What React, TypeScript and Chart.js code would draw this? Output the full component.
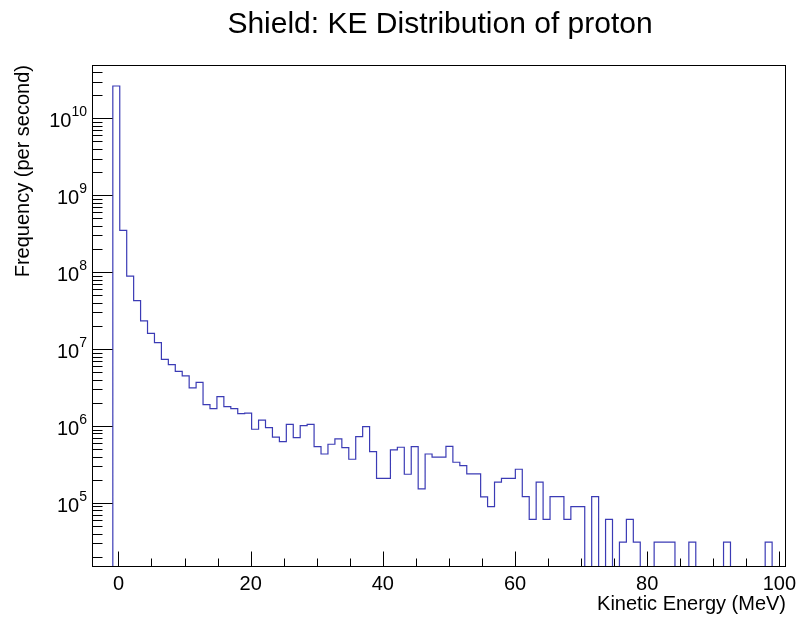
import React, { useEffect, useRef } from 'react';
import { Chart, registerables } from 'chart.js';

Chart.register(...registerables);

const TITLE = 'Shield: KE Distribution of proton';
const X_TITLE = 'Kinetic Energy (MeV)';
const Y_TITLE = 'Frequency (per second)';

// histogram binning: 100 bins from -4 to 101 MeV
const BIN_LOW = -4;
const BIN_WIDTH = 1.05;

// bin contents (per second)
const counts = [
  0, 0, 0, 2.63e10, 3.5e8, 8.9e7, 4.26e7, 2.32e7, 1.6e7, 1.21e7,
  7.37e6, 6.28e6, 5.14e6, 4.48e6, 3.13e6, 3.7e6, 1.9e6, 1.68e6, 2.41e6, 1.79e6,
  1.68e6, 1.45e6, 1.47e6, 9.08e5, 1.19e6, 9.53e5, 7.15e5, 6.26e5, 1.05e6, 7.05e5,
  1.01e6, 1.05e6, 5.39e5, 4.33e5, 5.79e5, 6.79e5, 5.23e5, 3.7e5, 7.28e5, 9.82e5,
  4.64e5, 2.09e5, 2.09e5, 4.89e5, 5.3e5, 2.36e5, 5.39e5, 1.52e5, 4.33e5, 3.93e5,
  3.93e5, 5.45e5, 3.38e5, 3.05e5, 2.38e5, 2.38e5, 1.2e5, 8.95e4, 1.86e5, 2.09e5,
  2.09e5, 2.74e5, 1.21e5, 6.1e4, 1.86e5, 6.1e4, 1.21e5, 1.21e5, 6.1e4, 8.95e4,
  8.95e4, 0, 1.21e5, 0, 6.1e4, 0, 3.1e4, 6.1e4, 3.1e4, 0,
  0, 3.1e4, 3.1e4, 3.1e4, 0, 0, 3.1e4, 0, 0, 0,
  0, 3.1e4, 0, 0, 0, 0, 0, 3.1e4, 0, 0,
];

// axes
const X_MIN = -4;
const X_MAX = 101;
const Y_MIN = 1.47e4;
const Y_MAX = 4.93e10;
const xMajorTicks = [0, 20, 40, 60, 80, 100];
const xTickLabels = ['0', '20', '40', '60', '80', '100'];
const X_MINOR_STEP = 5;
const yDecades = [5, 6, 7, 8, 9, 10];

const FONT = '"Liberation Sans", Arial, Helvetica, sans-serif';

const rootStyle = {
  id: 'rootStyle',
  afterDraw(chart: any) {
    const { ctx, chartArea: a, scales } = chart;
    const xs = scales.x;
    const ys = scales.y;
    ctx.save();
    ctx.strokeStyle = '#000';
    ctx.lineWidth = 1;
    // frame
    ctx.strokeRect(Math.round(a.left) + 0.5, Math.round(a.top) + 0.5,
      Math.round(a.right - a.left) - 1, Math.round(a.bottom - a.top) - 1);
    const bottom = Math.round(a.bottom) - 0.5;
    const left = Math.round(a.left) + 0.5;
    // x ticks
    ctx.beginPath();
    for (let v = Math.ceil(X_MIN / X_MINOR_STEP) * X_MINOR_STEP; v <= X_MAX; v += X_MINOR_STEP) {
      const px = Math.round(xs.getPixelForValue(v)) + 0.5;
      const len = xMajorTicks.includes(v) ? 15 : 8;
      ctx.moveTo(px, bottom);
      ctx.lineTo(px, bottom - len);
    }
    // y ticks
    const d0 = Math.floor(Math.log10(Y_MIN));
    const d1 = Math.ceil(Math.log10(Y_MAX));
    for (let d = d0; d <= d1; d++) {
      for (let m = 1; m <= 9; m++) {
        const val = m * Math.pow(10, d);
        if (val < Y_MIN || val > Y_MAX) continue;
        const py = Math.round(ys.getPixelForValue(val)) + 0.5;
        const len = m === 1 ? 20 : 10;
        ctx.moveTo(left, py);
        ctx.lineTo(left + len, py);
      }
    }
    ctx.stroke();

    ctx.fillStyle = '#000';
    // x tick labels
    ctx.font = `20px ${FONT}`;
    ctx.textAlign = 'center';
    ctx.textBaseline = 'alphabetic';
    xMajorTicks.forEach((v, i) => {
      ctx.fillText(xTickLabels[i], xs.getPixelForValue(v), 590);
    });
    // y tick labels 10^n
    yDecades.forEach((d) => {
      const py = ys.getPixelForValue(Math.pow(10, d));
      ctx.textAlign = 'right';
      ctx.font = `14px ${FONT}`;
      const exp = String(d);
      const ew = ctx.measureText(exp).width;
      ctx.fillText(exp, 87, py - 2);
      ctx.font = `20px ${FONT}`;
      ctx.fillText('10', 87 - ew, py + 9);
    });
    // axis titles
    ctx.font = `20px ${FONT}`;
    ctx.textAlign = 'right';
    ctx.fillText(X_TITLE, Math.round(a.right), 610);
    ctx.save();
    ctx.translate(29, Math.round(a.top));
    ctx.rotate(-Math.PI / 2);
    ctx.textAlign = 'right';
    ctx.fillText(Y_TITLE, 0, 0);
    ctx.restore();
    // main title
    ctx.font = `30px ${FONT}`;
    ctx.textAlign = 'center';
    ctx.fillText(TITLE, 440, 33);
    ctx.restore();
  },
};

export default function App() {
  const ref = useRef<HTMLCanvasElement | null>(null);
  useEffect(() => {
    if (!ref.current) return;
    const points = counts.map((c, i) => ({ x: BIN_LOW + i * BIN_WIDTH, y: c > 0 ? c : Y_MIN }));
    const last = counts[counts.length - 1];
    points.push({ x: BIN_LOW + counts.length * BIN_WIDTH, y: last > 0 ? last : Y_MIN });
    const chart = new Chart(ref.current, {
      type: 'line',
      data: {
        datasets: [
          {
            data: points,
            stepped: 'before',
            borderColor: '#3b3bb5',
            borderWidth: 1.2,
            pointRadius: 0,
            fill: false,
            tension: 0,
          },
        ],
      },
      options: {
        responsive: false,
        animation: false,
        events: [],
        layout: { padding: { left: 92, top: 65, right: 15, bottom: 52 } },
        plugins: { legend: { display: false }, tooltip: { enabled: false }, title: { display: false } },
        scales: {
          x: { type: 'linear', min: X_MIN, max: X_MAX, display: false },
          y: { type: 'logarithmic', min: Y_MIN, max: Y_MAX, display: false },
        },
      },
      plugins: [rootStyle],
    } as any);
    return () => chart.destroy();
  }, []);
  return (
    <div style={{ position: 'absolute', left: 0, top: 0, width: 801, height: 619, background: '#fff' }}>
      <canvas ref={ref} width={801} height={619} style={{ display: 'block' }} />
    </div>
  );
}
